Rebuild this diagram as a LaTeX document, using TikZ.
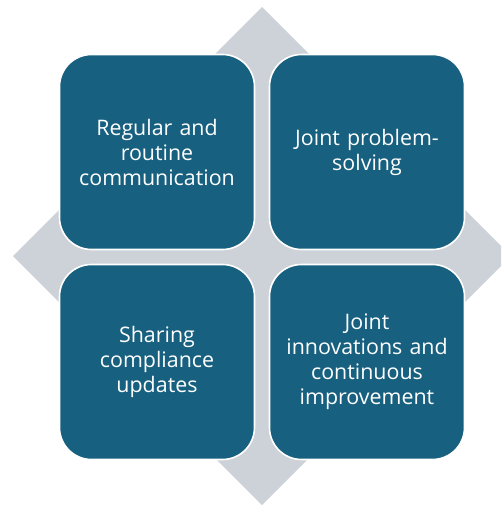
\documentclass[tikz,border=0pt]{standalone}
\usepackage{fontspec}
\setmainfont{Open Sans}
\definecolor{tile}{HTML}{17607F}
\definecolor{backdrop}{HTML}{CDD2D8}
\tikzset{
  tile/.style={rectangle, rounded corners=32pt, fill=tile, draw=white,
    line width=1.6pt, minimum width=195pt, minimum height=195pt,
    inner sep=0pt, text=white, align=center, text width=185pt,
    font=\fontsize{21.4pt}{25pt}\selectfont},
}
\begin{document}
\begin{tikzpicture}[x=1pt, y=-1pt]
  \useasboundingbox (0,0) rectangle (501,506);
  \clip (0,0) rectangle (501,506);
  % grey diamond behind the four tiles
  \fill[backdrop] (262,7) -- (511,256) -- (262,505) -- (13,256) -- cycle;
  % the four tiles
  \node[tile] (tl) at (157,152) {Regular and\\routine\\communication};
  \node[tile] (tr) at (367,152) {Joint problem-\\solving};
  \node[tile] (bl) at (157,362) {Sharing\\compliance\\updates};
  \node[tile] (br) at (367,362) {Joint\\innovations and\\continuous\\improvement};
\end{tikzpicture}
\end{document}
